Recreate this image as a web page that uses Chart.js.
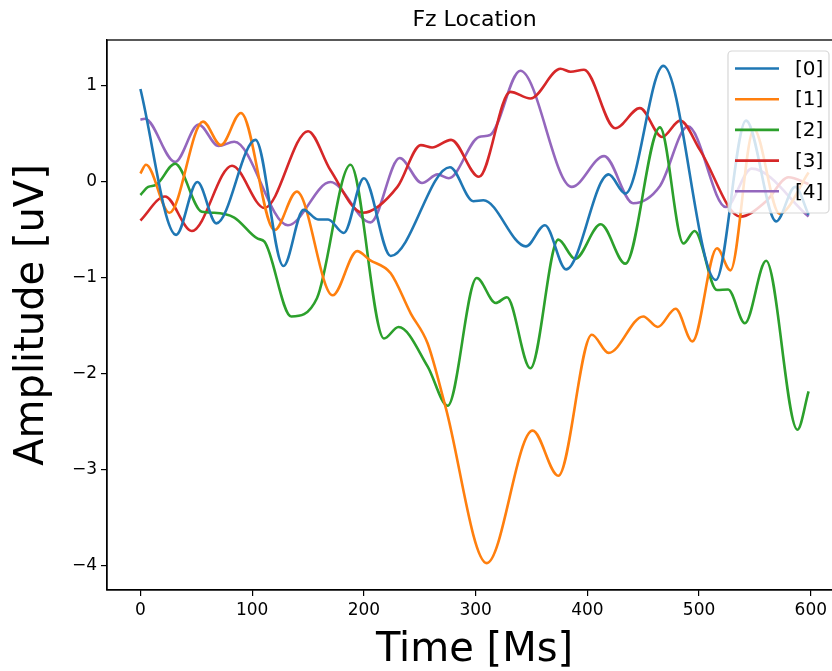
<!DOCTYPE html>
<html>
<head>
<meta charset="utf-8">
<script src="https://cdn.jsdelivr.net/npm/chart.js@4.4.1/dist/chart.umd.min.js"></script>
<style>
  body { margin: 0; overflow: hidden; background: #fff; }
  canvas { display: block; }
</style>
</head>
<body>
<canvas id="monGraphe" width="842" height="671"></canvas>
<script>
// temps (ms) et amplitude (uV), une paire de tableaux par canal
var t0 = [0, 32, 51, 68, 103, 128, 146, 159, 168, 182, 200, 224, 277, 298, 307, 345, 362, 381, 419, 434, 468, 515, 542, 569, 586, 598]
var v0 = [0.97, -0.55, 0.0, -0.43, 0.44, -0.875, -0.29, -0.39, -0.39, -0.53, 0.04, -0.77, 0.155, -0.2, -0.19, -0.67, -0.45, -0.91, 0.08, -0.12, 1.21, -1.02, 0.64, -0.41, -0.05, -0.34]

var t1 = [0, 5, 26, 56, 72, 90, 120, 140, 172, 194, 205, 224, 242, 257, 273, 310, 351, 374, 404, 419, 450, 463, 479, 494, 516, 528, 549, 572, 598]
var v1 = [0.09, 0.18, -0.32, 0.63, 0.385, 0.72, -0.5, -0.1, -1.18, -0.72, -0.81, -0.95, -1.37, -1.68, -2.34, -3.97, -2.59, -3.06, -1.59, -1.78, -1.4, -1.51, -1.32, -1.66, -0.69, -0.92, 0.55, -0.33, 0.1]

var t2 = [0, 7, 14, 31, 55, 66, 84, 105, 111, 135, 158, 188, 218, 231, 257, 275, 301, 318, 328, 349, 374, 389, 412, 434, 465, 486, 496, 516, 526, 541, 560, 588, 598]
var v2 = [-0.135, -0.05, -0.03, 0.19, -0.31, -0.32, -0.37, -0.59, -0.62, -1.4, -1.21, 0.18, -1.63, -1.51, -1.92, -2.33, -1.0, -1.26, -1.2, -1.94, -0.6, -0.8, -0.44, -0.85, 0.57, -0.64, -0.51, -1.125, -1.12, -1.47, -0.82, -2.58, -2.18]

var t3 = [0, 22, 46, 82, 111, 150, 170, 199, 230, 251, 261, 278, 303, 331, 349, 376, 385, 397, 425, 447, 467, 483, 501, 537, 560, 580, 598]
var v3 = [-0.40, -0.15, -0.51, 0.17, -0.27, 0.53, 0.125, -0.32, -0.05, 0.385, 0.36, 0.44, 0.055, 0.94, 0.87, 1.18, 1.15, 1.17, 0.56, 0.77, 0.47, 0.64, 0.33, -0.36, -0.2, 0.05, -0.02]

var t4 = [0, 4, 31, 52, 70, 84, 132, 170, 206, 232, 252, 266, 276, 303, 313, 340, 386, 415, 441, 465, 490, 524, 547, 598]
var v4 = [0.65, 0.66, 0.21, 0.6, 0.375, 0.42, -0.45, 0.0, -0.42, 0.25, -0.01, 0.08, 0.04, 0.47, 0.49, 1.16, -0.05, 0.27, -0.22, -0.04, 0.58, -0.26, 0.14, -0.36]

var labels = ["[0]", "[1]", "[2]", "[3]", "[4]"]
var couleurs = ["#1f77b4", "#ff7f0e", "#2ca02c", "#d62728", "#9467bd"]
var xTicks = [0, 100, 200, 300, 400, 500, 600]
var yTicks = [1, 0, -1, -2, -3, -4]

var police = "DejaVu Sans"

function paires(t, v){
  var res = []
  for(var i = 0; i < t.length; i++){
    res.push({x: t[i], y: v[i]})
  }
  return res
}

var series = [[t0, v0], [t1, v1], [t2, v2], [t3, v3], [t4, v4]]
var datasets = series.map(function(s, i){
  return {
    label: labels[i],
    data: paires(s[0], s[1]),
    borderColor: couleurs[i],
    borderWidth: 2.6,
    pointRadius: 0,
    fill: false,
    cubicInterpolationMode: "monotone"
  }
})

function moins(v){
  return String(v).replace("-", "\u2212")
}

// cadre, titre et legende facon matplotlib
var decor = {
  id: "decor",
  afterDraw: function(chart){
    var ctx = chart.ctx
    var a = chart.chartArea
    ctx.save()
    ctx.strokeStyle = "#000"
    ctx.lineWidth = 1.3
    ctx.strokeRect(a.left, a.top, a.right - a.left, a.bottom - a.top)

    ctx.fillStyle = "#000"
    ctx.font = "22px " + police
    ctx.textAlign = "center"
    ctx.textBaseline = "middle"
    ctx.fillText("Fz Location", (a.left + a.right) / 2, 20)

    // legende semi transparente
    var lx = 728, ly = 51, lw = 101, lh = 162
    ctx.beginPath()
    ctx.roundRect(lx, ly, lw, lh, 4)
    ctx.fillStyle = "rgba(255,255,255,0.8)"
    ctx.fill()
    ctx.strokeStyle = "rgba(204,204,204,0.8)"
    ctx.lineWidth = 1.2
    ctx.stroke()

    ctx.font = "20px " + police
    ctx.textAlign = "left"
    chart.data.datasets.forEach(function(ds, i){
      var y = 68.5 + i * 30.7
      ctx.beginPath()
      ctx.moveTo(735, y)
      ctx.lineTo(779, y)
      ctx.strokeStyle = ds.borderColor
      ctx.lineWidth = 2.6
      ctx.stroke()
      ctx.fillStyle = "#000"
      ctx.fillText(ds.label, 795, y + 1)
    })
    ctx.restore()
  }
}

const ctx = document.getElementById("monGraphe")
let chart = new Chart(ctx, {
  type: "line",
  data: { datasets: datasets },
  plugins: [decor],
  options: {
    responsive: false,
    animation: false,
    layout: { padding: { top: 40, left: 0, right: 0, bottom: 0 } },
    plugins: {
      legend: { display: false },
      tooltip: { enabled: false }
    },
    scales: {
      x: {
        type: "linear",
        min: -29.9,
        max: 627.9,
        afterFit: function(s){ s.height = 81 },
        afterBuildTicks: function(s){ s.ticks = xTicks.map(function(v){ return {value: v} }) },
        grid: { drawOnChartArea: false, drawTicks: true, tickLength: 6, color: "#000", lineWidth: 1.2 },
        border: { display: true, color: "#000", width: 1.3 },
        ticks: { color: "#000", font: { family: police, size: 17 }, padding: 4, maxRotation: 0, callback: moins },
        title: { display: true, text: "Time [Ms]", color: "#000", font: { family: police, size: 40, lineHeight: 1.0 }, padding: 0 }
      },
      y: {
        type: "linear",
        min: -4.25,
        max: 1.48,
        afterFit: function(s){ s.width = 107 },
        afterBuildTicks: function(s){ s.ticks = yTicks.map(function(v){ return {value: v} }) },
        grid: { drawOnChartArea: false, drawTicks: true, tickLength: 6, color: "#000", lineWidth: 1.2 },
        border: { display: true, color: "#000", width: 1.3 },
        ticks: { color: "#000", font: { family: police, size: 17 }, padding: 4, callback: moins },
        title: { display: true, text: "Amplitude [uV]", color: "#000", font: { family: police, size: 40, lineHeight: 1.05 }, padding: 12 }
      }
    }
  }
})
</script>
</body>
</html>
